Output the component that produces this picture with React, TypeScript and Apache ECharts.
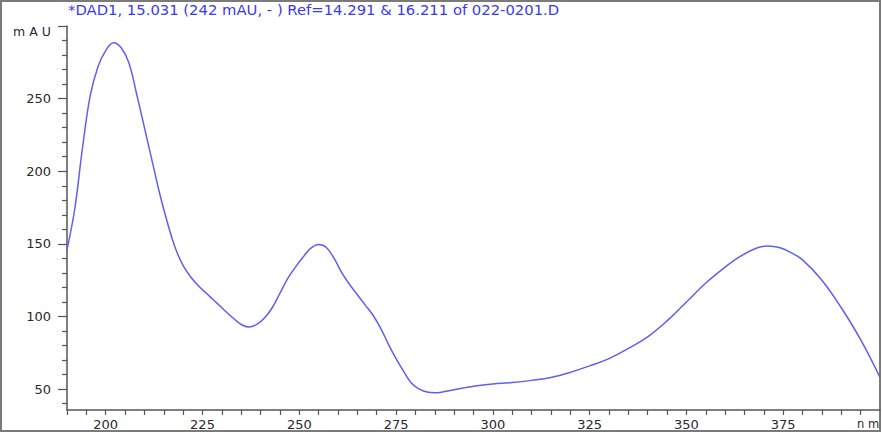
import React, { useEffect, useRef } from "react";
import * as echarts from "echarts";

const wavelengths: number[] = [
  190, 192, 194, 196, 198, 200, 202, 204, 206, 208, 210, 212, 214, 216, 218, 220,
  222, 224, 226, 228, 230, 232, 234, 235, 237, 239, 241, 243, 245, 247, 249, 251,
  253, 255, 257, 259, 261, 263, 265, 267, 269, 271, 273, 275, 277, 279, 281, 283,
  285, 287, 289, 291, 293, 295, 297, 300, 305, 310, 315, 320, 325, 330, 335, 340,
  345, 350, 355, 360, 364, 368, 371, 374, 377, 380, 385, 390, 395, 400,
];
const absorbance: number[] = [
  146, 174, 216, 252, 272, 283, 288.5, 285, 274.5, 253, 230, 207, 184, 164, 147, 135,
  127, 121, 116, 111, 106, 101, 96.5, 94.5, 92.7, 94.5, 99, 106, 116, 126, 134, 141,
  147, 149.5, 147.5, 140, 130, 122, 115, 108, 101, 92, 81, 71, 62, 54, 50, 48,
  47.5, 48, 49, 50, 51, 52, 52.7, 53.5, 54.5, 56, 58, 61.5, 66, 71, 78, 86,
  97, 110, 123, 134, 141.5, 147, 148.6, 147.5, 144, 139, 125, 106, 84, 58,
];
const xLabelTicks: number[] = [200, 225, 250, 275, 300, 325, 350, 375];
const xMinorTicks: number[] = [
  190, 195, 200, 205, 210, 215, 220, 225, 230, 235, 240, 245, 250, 255, 260, 265, 270,
  275, 280, 285, 290, 295, 300, 305, 310, 315, 320, 325, 330, 335, 340, 345, 350, 355,
  360, 365, 370, 375, 380, 385, 390, 395,
];
const yLabelTicks: number[] = [50, 100, 150, 200, 250];
const yMajorTicks: number[] = [50, 100, 150, 200, 250, 300];
const yMinorTicks: number[] = [
  40, 60, 70, 80, 90, 110, 120, 130, 140, 160, 170, 180, 190, 210, 220, 230, 240, 260,
  270, 280, 290,
];
const titleText = "*DAD1, 15.031 (242 mAU, - ) Ref=14.291 & 16.211 of 022-0201.D";

const X_MIN = 190;
const X_MAX = 400;
const Y_MIN = 35.6;
const Y_MAX = 300;

export default function App() {
  const ref = useRef<HTMLDivElement>(null);
  useEffect(() => {
    if (!ref.current) return;
    const chart = echarts.init(ref.current, undefined, { renderer: "svg" });
    const axisColor = "#555";
    const labelStyle = {
      color: "#2a2a2a",
      fontFamily: "DejaVu Sans, Verdana, sans-serif",
      fontSize: 13,
    };
    const grid = { left: 67, right: 2, top: 26, bottom: 24 };
    chart.setOption({
      animation: false,
      backgroundColor: "#fff",
      grid: [grid],
      xAxis: [
        {
          type: "value",
          min: X_MIN,
          max: X_MAX,
          axisLine: { show: true, onZero: false, lineStyle: { color: axisColor, width: 1.5 } },
          axisTick: { show: true, customValues: xMinorTicks, length: 5, lineStyle: { color: axisColor, width: 1.2 } },
          axisLabel: { show: true, customValues: xLabelTicks, margin: 8, ...labelStyle },
          splitLine: { show: false },
        },
      ],
      yAxis: [
        {
          type: "value",
          min: Y_MIN,
          max: Y_MAX,
          axisLine: { show: true, onZero: false, lineStyle: { color: axisColor, width: 1.5 } },
          axisTick: { show: true, customValues: yMajorTicks, length: 9, lineStyle: { color: axisColor, width: 1.2 } },
          axisLabel: { show: true, customValues: yLabelTicks, margin: 16, ...labelStyle },
          splitLine: { show: false },
        },
        {
          type: "value",
          min: Y_MIN,
          max: Y_MAX,
          position: "left",
          axisLine: { show: false },
          axisTick: { show: true, customValues: yMinorTicks, length: 5, lineStyle: { color: axisColor, width: 1.2 } },
          axisLabel: { show: false },
          splitLine: { show: false },
        },
      ],
      series: [
        {
          type: "line",
          data: wavelengths.map((w, i) => [w, absorbance[i]]),
          smooth: 0.4,
          showSymbol: false,
          symbol: "none",
          lineStyle: { color: "#5f5ff5", width: 1.5 },
          clip: true,
        },
      ],
      graphic: [
        {
          type: "rect",
          shape: { x: 1, y: 1, width: 879, height: 430 },
          style: { fill: "none", stroke: "#7a7a7a", lineWidth: 2 },
          silent: true,
        },
        {
          type: "text",
          left: 68,
          top: 2,
          style: {
            text: titleText,
            fill: "#3a3af0",
            font: "14.8px 'DejaVu Sans', Verdana, sans-serif",
          },
        },
        {
          type: "text",
          left: 13,
          top: 25,
          style: {
            text: "m A U",
            fill: "#2a2a2a",
            font: "12.5px 'DejaVu Sans', Verdana, sans-serif",
          },
        },
        {
          type: "text",
          left: 857,
          top: 418,
          style: {
            text: "n m",
            fill: "#2a2a2a",
            font: "11.5px 'DejaVu Sans', Verdana, sans-serif",
          },
        },
      ],
    });
    return () => chart.dispose();
  }, []);
  return (
    <div
      ref={ref}
      style={{ position: "fixed", left: 0, top: 0, width: 882, height: 434 }}
    />
  );
}
